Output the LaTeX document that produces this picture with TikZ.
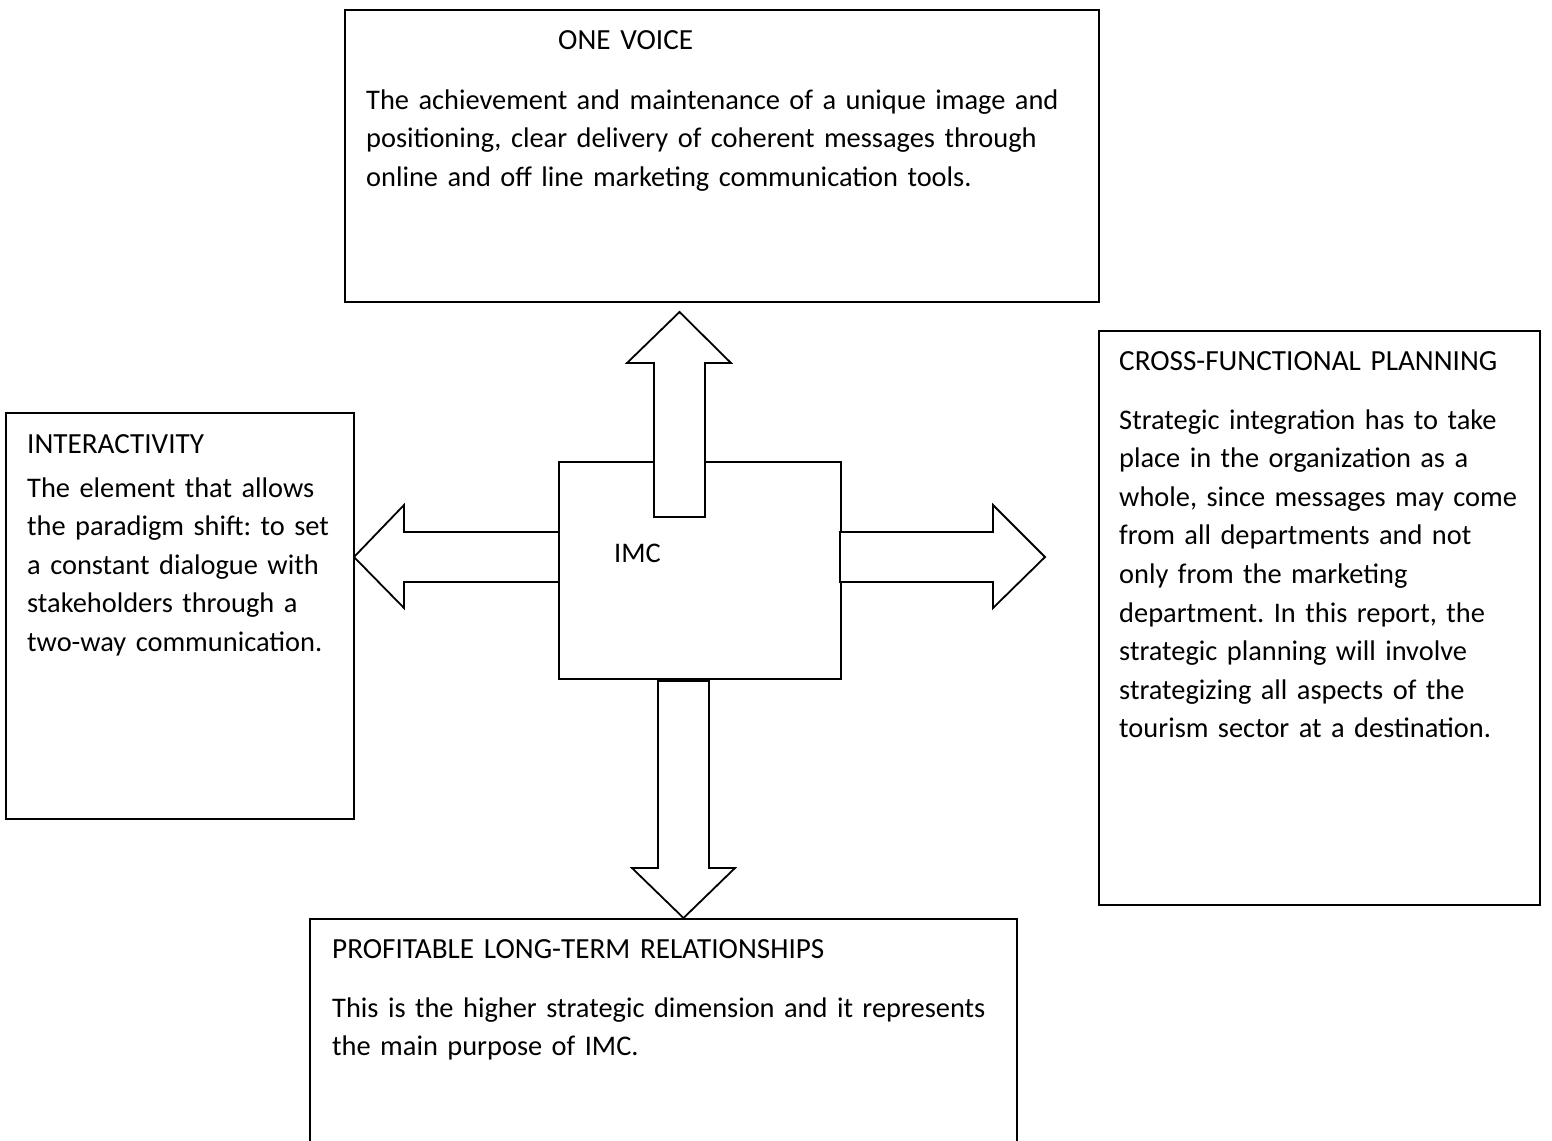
\documentclass[tikz,border=0pt]{standalone}
\usepackage{fontspec}
\setmainfont{Carlito}
\frenchspacing
\begin{document}
\begin{tikzpicture}[x=1pt,y=-1pt,
  box/.style={draw=black,line width=1.8pt,fill=white,inner sep=0pt},
  blockarrow/.style={draw=black,line width=1.8pt,fill=white,line join=miter},
  txt/.style={anchor=base west,inner sep=0pt,align=left,text width=760pt,
    font=\fontsize{28.4}{38.6}\selectfont},
  head/.style={txt,font=\fontsize{29.2}{38.6}\selectfont}]
\clip (0,0) rectangle (1552,1140);
\fill[white] (0,0) rectangle (1552,1140);
% boxes
\draw[box] (345,10) rectangle (1099,302);
\coordinate (onevoice) at (722,156);
\draw[box] (6,413) rectangle (354,819);
\coordinate (interact) at (180,616);
\draw[box] (1099,331) rectangle (1540,905);
\coordinate (cross) at (1320,618);
\draw[box] (310,919) rectangle (1017,1160);
\coordinate (profit) at (663,1030);
\draw[box] (559,462) rectangle (841,679);
\coordinate (imc) at (700,570);
% texts
\node[head] (h1) at (558,49) {ONE VOICE};
\node[txt] (b1) at (366,109) {The achievement and maintenance of a unique image and\\
positioning, clear delivery of coherent messages through\\
online and off line marketing communication tools.};
\node[head] (h2) at (27,453) {INTERACTIVITY};
\node[txt] (b2) at (27,497) {The element that allows\\
the paradigm shift: to set\\
a constant dialogue with\\
stakeholders through a\\
two-way communication.};
\node[head] (h3) at (1119,370) {CROSS-FUNCTIONAL PLANNING};
\node[txt] (b3) at (1119,429) {Strategic integration has to take\\
place in the organization as a\\
whole, since messages may come\\
from all departments and not\\
only from the marketing\\
department. In this report, the\\
strategic planning will involve\\
strategizing all aspects of the\\
tourism sector at a destination.};
\node[head] (h4) at (332,958) {PROFITABLE LONG-TERM RELATIONSHIPS};
\node[txt] (b4) at (332,1017) {This is the higher strategic dimension and it represents\\
the main purpose of IMC.};
\node[txt] (imclabel) at (614,562) {IMC};
% block arrows
\draw[blockarrow] (654,517) -- (654,363) -- (627,363) -- (679.5,312) -- (731,363) -- (705,363) -- (705,517) -- cycle;
\draw[blockarrow] (658,681) -- (658,868) -- (632,868) -- (683.5,918) -- (735,868) -- (709,868) -- (709,681) -- cycle;
\draw[blockarrow] (559,532) -- (404,532) -- (404,505) -- (354,557) -- (404,608) -- (404,582) -- (559,582) -- cycle;
\draw[blockarrow] (840,532) -- (993,532) -- (993,505) -- (1045,557) -- (993,608) -- (993,582) -- (840,582) -- cycle;
\end{tikzpicture}
\end{document}
